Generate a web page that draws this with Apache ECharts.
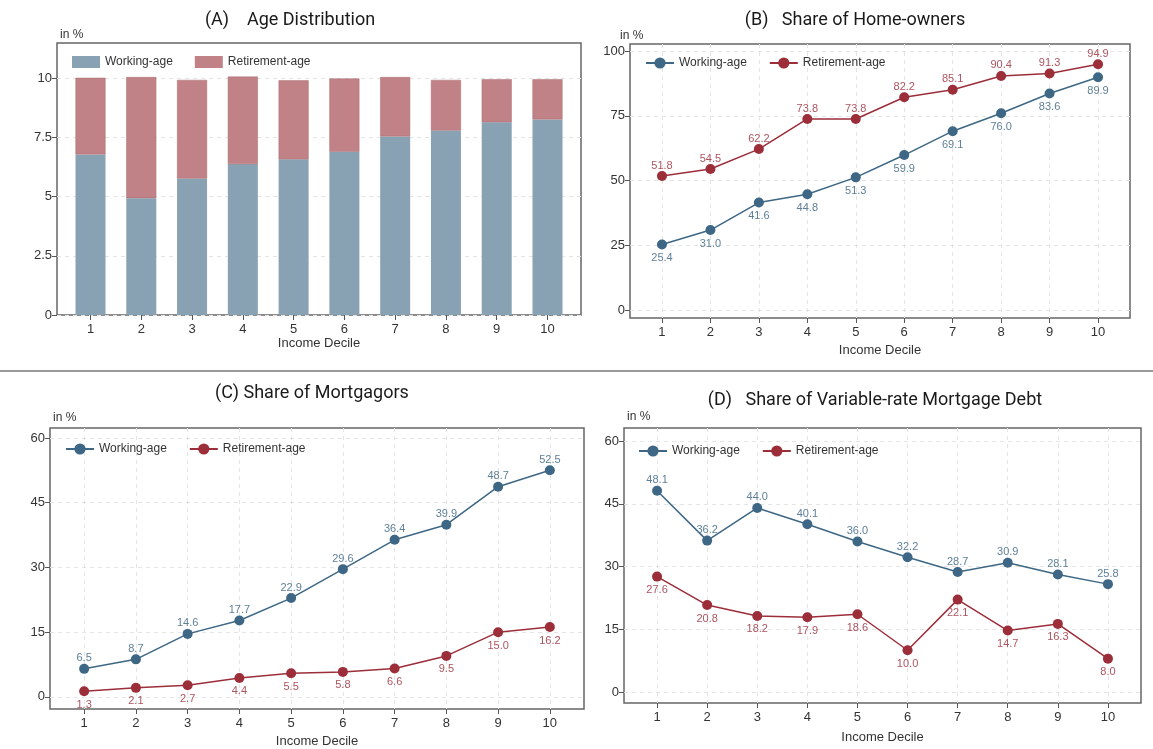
<!DOCTYPE html>
<html><head><meta charset="utf-8">
<script src="https://cdn.jsdelivr.net/npm/echarts@6/dist/echarts.min.js"></script>
<style>html,body{margin:0;padding:0;background:#fff}#c{width:1153px;height:749px}</style>
</head><body><div id="c"></div>
<script>
// ---- data ----
const deciles = [1, 2, 3, 4, 5, 6, 7, 8, 9, 10];
const ageWorking    = [6.79, 4.94, 5.77, 6.38, 6.58, 6.90, 7.55, 7.80, 8.15, 8.27];
const ageRetirement = [3.24, 5.12, 4.17, 3.70, 3.34, 3.10, 2.51, 2.14, 1.82, 1.70];
const homeWorking    = [25.4, 31.0, 41.6, 44.8, 51.3, 59.9, 69.1, 76.0, 83.6, 89.9];
const homeRetirement = [51.8, 54.5, 62.2, 73.8, 73.8, 82.2, 85.1, 90.4, 91.3, 94.9];
const mortWorking    = [6.5, 8.7, 14.6, 17.7, 22.9, 29.6, 36.4, 39.9, 48.7, 52.5];
const mortRetirement = [1.3, 2.1, 2.7, 4.4, 5.5, 5.8, 6.6, 9.5, 15.0, 16.2];
const varWorking     = [48.1, 36.2, 44.0, 40.1, 36.0, 32.2, 28.7, 30.9, 28.1, 25.8];
const varRetirement  = [27.6, 20.8, 18.2, 17.9, 18.6, 10.0, 22.1, 14.7, 16.3, 8.0];
const ticksA = [0, 2.5, 5, 7.5, 10];
const ticksB = [0, 25, 50, 75, 100];
const ticksCD = [0, 15, 30, 45, 60];
const seriesNames = ['Working-age', 'Retirement-age'];
const titles = ['(A)    Age Distribution', '(B)   Share of Home-owners', '(C) Share of Mortgagors', '(D)   Share of Variable-rate Mortgage Debt'];
const xName = 'Income Decile';
const yUnit = 'in %';

// ---- style ----
const FONT = 'Liberation Sans, Arial, sans-serif';
const cWork = '#3d6784', cRet = '#9c2e3a';
const cWorkLbl = '#5f8099', cRetLbl = '#ad5560';
const cBarWork = '#89a2b3', cBarRet = '#c08286';

const grids = [
  {left: 57, top: 43, width: 524, height: 272},
  {left: 630, top: 44, width: 500, height: 274},
  {left: 50, top: 428, width: 534, height: 281},
  {left: 624, top: 428, width: 517, height: 275}
];
const yr = [[0, 11.5], [-2.9, 102.7], [-2.8, 62.3], [-2.6, 63.1]];
const yt = [ticksA, ticksB, ticksCD, ticksCD];
const nameGaps = [20, 26, 26, 28];

const pairs = v => deciles.map((d, i) => [d, v[i]]);
// value first, decile second (so that stacking happens on the value dimension)
const pairsYX = v => deciles.map((d, i) => [v[i], d]);

const xAxes = grids.map((g, i) => ({
  type: 'value', gridIndex: i, min: 0.34, max: 10.66,
  name: xName, nameLocation: 'middle', nameGap: nameGaps[i],
  nameTextStyle: {fontFamily: FONT, fontSize: 13, color: '#333'},
  axisLine: {show: false, onZero: false},
  axisTick: {show: true, length: 5, customValues: deciles, lineStyle: {color: '#555'}},
  axisLabel: {customValues: deciles, fontFamily: FONT, fontSize: 13, color: '#333', margin: 8},
  splitLine: {show: i !== 0, lineStyle: {type: [4, 4], color: '#e4e4e4'}}
}));
const yAxes = grids.map((g, i) => ({
  type: 'value', gridIndex: i, min: yr[i][0], max: yr[i][1],
  axisLine: {show: false, onZero: false},
  axisTick: {show: true, length: 5, customValues: yt[i], lineStyle: {color: '#555'}},
  axisLabel: {customValues: yt[i], fontFamily: FONT, fontSize: 13, color: '#333', margin: 5},
  splitLine: {show: true, lineStyle: {type: [4, 4], color: '#e4e4e4'}}
}));

const lineSeries = (idx, prefix, data, color, lblColor, pos) => ({
  type: 'line', name: prefix + seriesNames[data.k], xAxisIndex: idx, yAxisIndex: idx,
  data: pairs(data.v), symbol: 'circle', symbolSize: 10,
  lineStyle: {color: color, width: 1.5}, itemStyle: {color: color},
  label: {show: true, position: pos, distance: pos === 'top' ? 0 : 3, fontFamily: FONT, fontSize: 11, color: lblColor,
    formatter: p => p.value[1].toFixed(1)},
  z: data.k === 0 ? 3 : 2
});

const series = [
  {type: 'bar', name: 'A|' + seriesNames[0], xAxisIndex: 0, yAxisIndex: 0, stack: 'a', barWidth: 30,
   encode: {x: 1, y: 0}, data: pairsYX(ageWorking), itemStyle: {color: cBarWork}},
  {type: 'bar', name: 'A|' + seriesNames[1], xAxisIndex: 0, yAxisIndex: 0, stack: 'a', barWidth: 30,
   encode: {x: 1, y: 0}, data: pairsYX(ageRetirement), itemStyle: {color: cBarRet, borderColor: '#a86c70', borderWidth: 0.5}},
  lineSeries(1, 'B|', {k: 0, v: homeWorking}, cWork, cWorkLbl, 'bottom'),
  lineSeries(1, 'B|', {k: 1, v: homeRetirement}, cRet, cRetLbl, 'top'),
  lineSeries(2, 'C|', {k: 0, v: mortWorking}, cWork, cWorkLbl, 'top'),
  lineSeries(2, 'C|', {k: 1, v: mortRetirement}, cRet, cRetLbl, 'bottom'),
  lineSeries(3, 'D|', {k: 0, v: varWorking}, cWork, cWorkLbl, 'top'),
  lineSeries(3, 'D|', {k: 1, v: varRetirement}, cRet, cRetLbl, 'bottom')
];

const legendPos = [[67, 51], [640, 52], [60, 438], [633, 440]];
const legends = ['A|', 'B|', 'C|', 'D|'].map((p, i) => {
  const lg = {
    left: legendPos[i][0], top: legendPos[i][1], orient: 'horizontal',
    data: seriesNames.map(n => p + n), itemWidth: 28, itemHeight: i === 0 ? 12 : 14, itemGap: 22,
    selectedMode: false,
    textStyle: {fontFamily: FONT, fontSize: 12, color: '#333'},
    formatter: n => n.split('|')[1]
  };
  if (i === 0) { lg.icon = 'rect'; lg.itemStyle = {borderWidth: 0}; }
  return lg;
});

const titlePos = [[290, 20], [855, 20], [312, 393], [875, 400]];
const unitPos = [[60, 35], [620, 36], [53, 418], [627, 417]];
const graphic = [];
titles.forEach((t, i) => graphic.push({type: 'text', x: titlePos[i][0], y: titlePos[i][1],
  style: {text: t, fontFamily: 'Roboto, sans-serif', fontSize: 18, fill: '#1a1a1a', align: 'center', verticalAlign: 'middle'}}));
unitPos.forEach(p => graphic.push({type: 'text', x: p[0], y: p[1],
  style: {text: yUnit, fontFamily: FONT, fontSize: 12, fill: '#333', align: 'left', verticalAlign: 'middle'}}));
graphic.push({type: 'line', shape: {x1: 0, y1: 371, x2: 1153, y2: 371}, style: {stroke: '#777', lineWidth: 1.5}});

const chart = echarts.init(document.getElementById('c'), null, {renderer: 'canvas'});
chart.setOption({
  backgroundColor: '#fff',
  animation: false,
  grid: grids.map(g => Object.assign({show: true, borderColor: '#666', borderWidth: 1.5, backgroundColor: 'transparent', containLabel: false}, g)),
  xAxis: xAxes, yAxis: yAxes, legend: legends, series: series, graphic: graphic
});
</script></body></html>
